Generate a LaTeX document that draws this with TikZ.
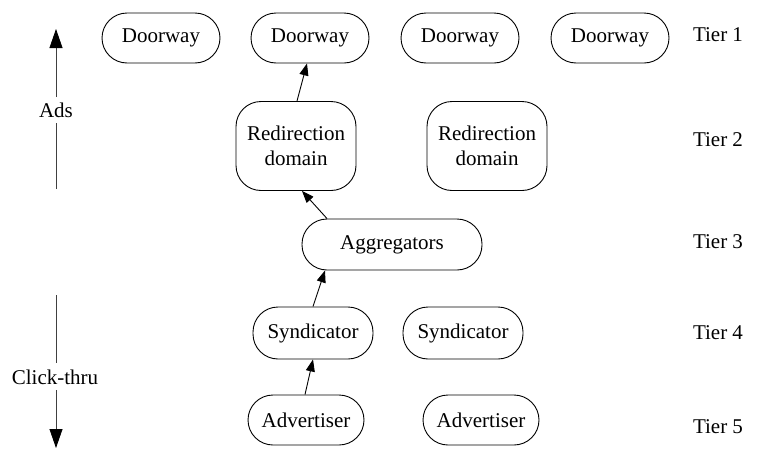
\documentclass[tikz,border=0pt]{standalone}
\usepackage{fontspec}
\setmainfont{Liberation Serif}
\usetikzlibrary{arrows.meta}
\begin{document}
\begin{tikzpicture}[x=1pt,y=-1pt,
  every node/.style={font=\fontsize{21}{25}\selectfont},
  box/.style={draw,line width=0.9pt,rounded corners=25pt,minimum height=50pt,inner sep=0pt,align=center},
  tall/.style={box,minimum height=89pt},
  link/.style={line width=0.9pt,-{Triangle[length=12pt,width=9pt]}},
  flow/.style={line width=0.8pt,draw=black!75},
  flowtip/.style={flow,-{Triangle[length=19pt,width=13pt,color=black]}},
  tier/.style={anchor=center}]
\useasboundingbox (0,0) rectangle (772,453);

% tier 1: doorways
\node[box,minimum width=118pt] (door1) at (161,38) {Doorway};
\node[box,minimum width=118pt] (door2) at (310,38) {Doorway};
\node[box,minimum width=118pt] (door3) at (460,38) {Doorway};
\node[box,minimum width=118pt] (door4) at (610,38) {Doorway};

% tier 2: redirection domains
\node[tall,minimum width=120pt] (red1) at (296,146) {Redirection\\domain};
\node[tall,minimum width=120pt] (red2) at (487,146) {Redirection\\domain};

% tier 3
\node[box,minimum width=180pt,minimum height=51pt] (agg) at (392,244.5) {Aggregators};

% tier 4
\node[box,minimum width=120pt,minimum height=52pt] (syn1) at (313,333) {Syndicator};
\node[box,minimum width=120pt,minimum height=52pt] (syn2) at (463,333) {Syndicator};

% tier 5
\node[box,minimum width=116pt] (adv1) at (306,420) {Advertiser};
\node[box,minimum width=116pt] (adv2) at (481,420) {Advertiser};

% traffic chain
\draw[link] ([xshift=1pt]red1.north) -- ([xshift=-3pt]door2.south);
\draw[link] ([xshift=-65pt]agg.north) -- ([xshift=6pt]red1.south);
\draw[link] (syn1.north) -- ([xshift=-67pt]agg.south);
\draw[link] ([xshift=-1pt]adv1.north) -- (syn1.south);

% tier labels
\node[tier] (t1) at (718,35) {Tier 1};
\node[tier] (t2) at (718,140) {Tier 2};
\node[tier] (t3) at (718,242) {Tier 3};
\node[tier] (t4) at (718,333) {Tier 4};
\node[tier] (t5) at (718,427) {Tier 5};

% direction of ads and click-throughs (shifts are in page units, pointing up)
\node[inner sep=0pt] (ads) at (56,110) {Ads};
\coordinate (adstop) at (56,29);
\coordinate (adsbot) at (56,189);
\draw[flow] (adsbot) -- ([yshift=-13pt]ads.center);
\draw[flowtip] ([yshift=13pt]ads.center) -- (adstop);

\node[inner sep=0pt] (click) at (55,377) {Click-thru};
\coordinate (clicktop) at (56,295);
\coordinate (clickbot) at (56,448);
\draw[flow] (clicktop) -- ([xshift=1pt,yshift=14pt]click.center);
\draw[flowtip] ([xshift=1pt,yshift=-13pt]click.center) -- (clickbot);
\end{tikzpicture}
\end{document}
